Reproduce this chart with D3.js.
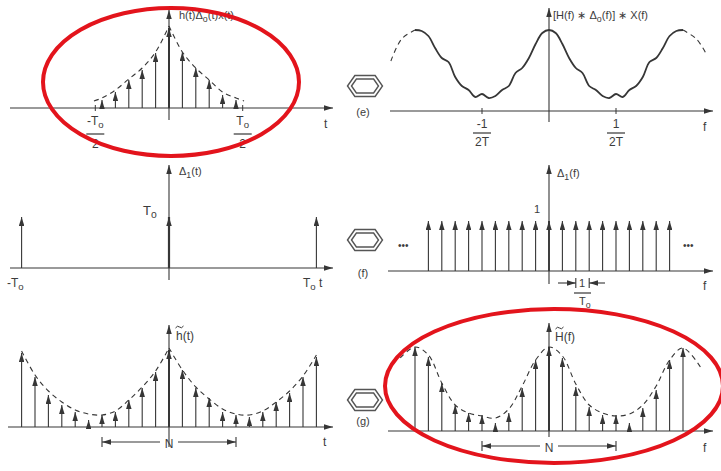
<!DOCTYPE html>
<html>
<head>
<meta charset="utf-8">
<script src="https://cdn.jsdelivr.net/npm/d3@7"></script>
<style>
  body { margin: 0; background: #fff; }
  text { font-family: "Liberation Sans", Arial, sans-serif; fill: #3c3c3c; }
</style>
</head>
<body>
<script>
// ---- data ----
// (a) sampled, truncated waveform h(t)Δ0(t)x(t), sample index k
const truncIdx = [-5, -4, -3, -2, -1, 0, 1, 2, 3, 4, 5]
const truncVal = [8, 16, 28, 38, 55, 80, 56, 40, 28, 13, 8]
const truncEnvL = [[-5.6, 7], [-5, 10], [-4, 18], [-3, 29], [-2, 40], [-1, 56], [0, 82]]
const truncEnvR = [[0, 82], [1, 56], [2, 40], [3, 28], [4, 16], [5, 10], [5.6, 7]]

// (e) spectrum, f in units of 1/2T
const specF = [-2, -1.9, -1.8, -1.7, -1.6, -1.5, -1.4, -1.3, -1.2, -1.1, -1, -0.9, -0.8, -0.7, -0.6, -0.5, -0.4, -0.3, -0.2, -0.1,
  0, 0.1, 0.2, 0.3, 0.4, 0.5, 0.6, 0.7, 0.8, 0.9, 1, 1.1, 1.2, 1.3, 1.4, 1.5, 1.6, 1.7, 1.8, 1.9, 2]
const specVal = [81, 80, 75, 63, 53, 49, 34, 25, 21, 14, 17, 13, 15, 21, 25, 38, 43, 53, 67, 78,
  81, 78, 67, 53, 43, 38, 25, 21, 15, 13, 17, 14, 21, 25, 34, 49, 53, 63, 75, 80, 81]
const specDashL = [[-2.36, 50], [-2.2, 72], [-2, 81]]
const specDashR = [[2, 81], [2.2, 72], [2.34, 58]]

// (b) time-domain comb Δ1(t): -T0, 0, T0 (in samples)
const combT = [-11, 0, 11]
const combTVal = [51, 51, 51]

// (f) frequency-domain comb Δ1(f)
const combF = [-9, -8, -7, -6, -5, -4, -3, -2, -1, 0, 1, 2, 3, 4, 5, 6, 7, 8, 9]
const combFVal = [50, 50, 50, 50, 50, 50, 50, 50, 50, 50, 50, 50, 50, 50, 50, 50, 50, 50, 50]

// (c) periodic h~(t)
const perIdx = [-11, -10, -9, -8, -7, -6, -5, -4, -3, -2, -1, 0, 1, 2, 3, 4, 5, 6, 7, 8, 9, 10, 11]
const perVal = [74, 50, 32, 22, 15, 7, 12, 15, 27, 39, 55, 77, 57, 39, 29, 15, 12, 10, 15, 25, 34, 50, 70]
const perEnvL = [[-11, 76], [-10, 52], [-9, 36], [-8, 25], [-7, 17], [-6, 13], [-5, 12], [-4, 16], [-3, 27], [-2, 40], [-1, 56], [0, 79]]
const perEnvR = [[0, 79], [1, 57], [2, 40], [3, 28], [4, 18], [5, 13], [6, 12], [7, 16], [8, 25], [9, 36], [10, 51], [11, 72]]

// (g) periodic H~(f)
const dftIdx = [-10, -9, -8, -7, -6, -5, -4, -3, -2, -1, 0, 1, 2, 3, 4, 5, 6, 7, 8, 9, 10]
const dftVal = [84, 74, 48, 26, 18, 16, 8, 18, 43, 71, 84, 73, 44, 24, 16, 16, 8, 23, 41, 71, 83]
const dftEnv = [[-11.1, 73], [-10, 84], [-9, 76], [-8, 48], [-7, 26], [-6, 18], [-5, 15], [-4, 13], [-3, 22], [-2, 45], [-1, 71],
  [0, 84], [1, 75], [2, 47], [3, 26], [4, 18], [5, 15], [6, 17], [7, 26], [8, 45], [9, 71], [10, 83], [11.3, 64]]

// ---- drawing ----
const svg = d3.select('body').append('svg')
  .attr('width', 721)
  .attr('height', 471)

const ink = '#363636'

svg.append('defs').append('marker')
  .attr('id', 'arr')
  .attr('viewBox', '0 0 10 10')
  .attr('refX', 10).attr('refY', 5)
  .attr('markerWidth', 9).attr('markerHeight', 5.5)
  .attr('markerUnits', 'userSpaceOnUse')
  .attr('preserveAspectRatio', 'none')
  .attr('orient', 'auto')
  .append('path')
  .attr('d', 'M0,0L10,5L0,10z')
  .attr('fill', ink)

// left column: sample index -> x, right column likewise
const tx = d3.scaleLinear().domain([-11, 11]).range([169 - 147.4, 169 + 147.4])
const nx = d3.scaleLinear().domain([-10, 10]).range([549 - 134, 549 + 134])
const fx = d3.scaleLinear().domain([-1, 1]).range([549 - 67, 549 + 67])

function yScale(base) {
  return d3.scaleLinear().domain([0, 100]).range([base, base - 100])
}

function axes(x0, x1, y, cx, yb, yt) {
  svg.append('line')
    .attr('x1', x0).attr('x2', x1).attr('y1', y).attr('y2', y)
    .attr('stroke', ink).attr('stroke-width', 1.1)
    .attr('marker-end', 'url(#arr)')
  svg.append('line')
    .attr('x1', cx).attr('x2', cx).attr('y1', yb).attr('y2', yt)
    .attr('stroke', ink).attr('stroke-width', 1.1)
    .attr('marker-end', 'url(#arr)')
}

function stems(xs, ys, idx, vals, centerWidth) {
  svg.append('g').selectAll('line')
    .data(idx)
    .enter()
    .append('line')
    .attr('x1', d => xs(d)).attr('x2', d => xs(d))
    .attr('y1', ys(0))
    .attr('y2', (d, i) => ys(vals[i]))
    .attr('stroke', ink)
    .attr('stroke-width', d => d === 0 ? centerWidth : 1.1)
    .attr('marker-end', 'url(#arr)')
}

function curve(xs, ys, pts, dashed, kind) {
  const line = d3.line()
    .x(d => xs(d[0]))
    .y(d => ys(d[1]))
    .curve(kind || d3.curveCatmullRom)
  svg.append('path')
    .attr('d', line(pts))
    .attr('fill', 'none')
    .attr('stroke', ink)
    .attr('stroke-width', dashed ? 1.1 : 1.8)
    .attr('stroke-dasharray', dashed ? '5,4' : null)
}

function label(x, y, txt, sub, rest, size, anchor) {
  const t = svg.append('text')
    .attr('x', x).attr('y', y)
    .attr('font-size', size || 12)
    .attr('text-anchor', anchor || 'start')
  t.append('tspan').text(txt)
  if (sub) {
    t.append('tspan').attr('dy', 3).attr('font-size', (size || 12) * 0.8).text(sub)
    if (rest) t.append('tspan').attr('dy', -3).text(rest)
  }
  return t
}

// small tilde drawn over a letter
function tilde(x, y) {
  svg.append('path')
    .attr('d', `M${x - 4},${y + 1}q2,-3 4,-1t4,-1`)
    .attr('fill', 'none').attr('stroke', ink).attr('stroke-width', 1)
}

function frac(x, yNum, yBar, yDen, num, numSub, den, w) {
  label(x, yNum, num, numSub, null, 12, 'middle')
  svg.append('line')
    .attr('x1', x - w / 2).attr('x2', x + w / 2)
    .attr('y1', yBar).attr('y2', yBar)
    .attr('stroke', ink).attr('stroke-width', 1.2)
  label(x, yDen, den, null, null, 12, 'middle')
}

function hexagon(cx, cy) {
  const g = svg.append('g').attr('fill', 'none').attr('stroke', '#555')
  const shape = (w, h) => [[-w, 0], [-w + h * 0.7, -h], [w - h * 0.7, -h], [w, 0], [w - h * 0.7, h], [-w + h * 0.7, h]]
    .map(p => [cx + p[0], cy + p[1]].join(',')).join(' ')
  g.append('polygon').attr('points', shape(17.5, 10.5)).attr('stroke-width', 1.4)
  g.append('polygon').attr('points', shape(13.5, 7)).attr('stroke-width', 1.4)
}

function span(x0, x1, y, gap0, gap1) {
  const g = svg.append('g').attr('stroke', ink).attr('stroke-width', 1.1)
  g.append('line').attr('x1', x0).attr('x2', x0).attr('y1', y - 5).attr('y2', y + 5)
  g.append('line').attr('x1', x1).attr('x2', x1).attr('y1', y - 5).attr('y2', y + 5)
  g.append('line').attr('x1', gap0).attr('x2', x0).attr('y1', y).attr('y2', y).attr('marker-end', 'url(#arr)')
  g.append('line').attr('x1', gap1).attr('x2', x1).attr('y1', y).attr('y2', y).attr('marker-end', 'url(#arr)')
}

// ---------- (a) top left ----------
const ya = yScale(108)
axes(10, 333, 108, 169, 120, 10)
svg.selectAll('.ticka').data([-5.5, 5.5]).enter().append('line')
  .attr('x1', d => tx(d)).attr('x2', d => tx(d)).attr('y1', 105).attr('y2', 111)
  .attr('stroke', ink)
curve(tx, ya, truncEnvL, true)
curve(tx, ya, truncEnvR, true)
stems(tx, ya, truncIdx, truncVal, 2)
label(179, 19, 'h(t)Δ', 'o', '(t)x(t)', 11)
frac(tx(-5.5), 125, 134, 148, '-T', 'o', '2', 18)
frac(tx(5.5), 125, 134, 148, 'T', 'o', '2', 18)
label(324, 128, 't', null, null, 12)

// ---------- (e) top right ----------
const ye = yScale(111)
axes(390, 713, 111, 549, 122, 8)
svg.selectAll('.ticke').data([-1, 1]).enter().append('line')
  .attr('x1', d => fx(d)).attr('x2', d => fx(d)).attr('y1', 108).attr('y2', 114)
  .attr('stroke', ink)
curve(fx, ye, specF.map((f, i) => [f, specVal[i]]), false)
curve(fx, ye, specDashL, true)
curve(fx, ye, specDashR, true)
label(553, 19, '[H(f) ∗ Δ', 'o', '(f)] ∗ X(f)', 11)
frac(fx(-1), 128, 133, 146, '-1', null, '2T', 18)
frac(fx(1), 128, 133, 146, '1', null, '2T', 18)
label(703, 131, 'f', null, null, 12)
hexagon(365, 86)
label(363, 116, '(e)', null, null, 11, 'middle')

// ---------- (b) middle left ----------
const yb = yScale(268)
axes(10, 333, 268, 169, 280, 165)
stems(tx, yb, combT, combTVal, 2.2)
label(179, 175, 'Δ', '1', '(t)', 11)
label(143, 215, 'T', 'o', null, 13)
label(7, 287, '-T', 'o', null, 12)
label(303, 287, 'T', 'o', ' t', 12)

// ---------- (f) middle right ----------
const yf = yScale(271)
axes(388, 713, 271, 549, 284, 165)
stems(nx, yf, combF, combFVal, 1.8)
label(557, 177, 'Δ', '1', '(f)', 11)
label(534, 213, '1', null, null, 11)
label(398, 249, '•••', null, null, 10)
label(683, 249, '•••', null, null, 10)
hexagon(365, 240)
label(363, 277, '(f)', null, null, 11, 'middle')
label(703, 290, 'f', null, null, 12)
span(nx(2), nx(3), 283, 558, 605)
label(582, 287, '1', null, null, 11, 'middle')
svg.append('line').attr('x1', 574).attr('x2', 591).attr('y1', 293).attr('y2', 293)
  .attr('stroke', ink).attr('stroke-width', 1.2)
label(579, 305, 'T', 'o', null, 11)

// ---------- (c) bottom left ----------
const yc = yScale(427)
axes(8, 333, 427, 169, 447, 325)
curve(tx, yc, perEnvL, true)
curve(tx, yc, perEnvR, true)
stems(tx, yc, perIdx, perVal, 2)
label(176, 340, 'h(t)', null, null, 12)
tilde(179.5, 327)
span(tx(-5), tx(5), 442, 160, 178)
label(169, 448, 'N', null, null, 12, 'middle')
label(323, 446, 't', null, null, 12)

// ---------- (g) bottom right ----------
const yg = yScale(431)
axes(388, 713, 431, 549, 437, 323)
curve(nx, yg, dftEnv, true)
stems(nx, yg, dftIdx, dftVal, 2)
label(555, 341, 'H(f)', null, null, 12)
tilde(559.5, 328)
hexagon(365, 400)
label(363, 425, '(g)', null, null, 11, 'middle')
span(nx(-5), nx(5), 446, 540, 558)
label(549, 452, 'N', null, null, 12, 'middle')
label(703, 452, 'f', null, null, 12)

// ---------- red highlight ellipses ----------
svg.append('ellipse')
  .attr('cx', 171).attr('cy', 82).attr('rx', 128).attr('ry', 74)
  .attr('fill', 'none').attr('stroke', '#e3141c').attr('stroke-width', 4)
svg.append('ellipse')
  .attr('cx', 554).attr('cy', 386).attr('rx', 169).attr('ry', 77)
  .attr('fill', 'none').attr('stroke', '#e3141c').attr('stroke-width', 4)
</script>
</body>
</html>
